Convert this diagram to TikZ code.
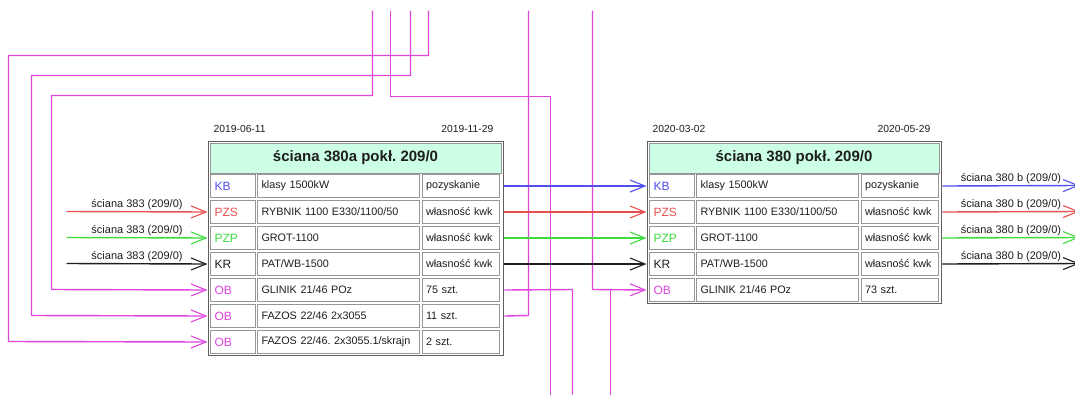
\documentclass[tikz,border=0pt]{standalone}
\usepackage{fontspec}
\setmainfont{Liberation Sans}
\usetikzlibrary{arrows.meta}
\frenchspacing
\definecolor{mint}{RGB}{204,255,230}
\definecolor{cblue}{RGB}{80,80,235}
\definecolor{cred}{RGB}{230,80,80}
\definecolor{cgreen}{RGB}{60,220,60}
\definecolor{cmag}{RGB}{222,70,222}
\definecolor{cblack}{RGB}{30,30,30}
\definecolor{frame}{RGB}{95,95,95}
\definecolor{cellb}{RGB}{150,150,150}
\newcommand{\wrow}[7]{%
  \node[cellbox, text width=36.5pt, text=#4, font=\fontsize{12}{14}\selectfont, anchor=north west] (#1a) at ({#2+2.5},{#3+1.5}) {#5};
  \node[cellbox, text width=154pt, anchor=north west] (#1b) at ({#2+49.5},{#3+1.5}) {#6};
  \node[cellbox, text width=69.5pt, anchor=north west] (#1c) at ({#2+214},{#3+1.5}) {#7};
}
\tikzset{
  cellbox/.style={draw=cellb, line width=1pt, fill=white, minimum height=23pt,
    inner xsep=4pt, inner ysep=0pt, align=left, font=\fontsize{10.8}{12}\selectfont, text=cblack},
  tbox/.style={draw=frame, line width=1.8pt, fill=white, anchor=north west, inner sep=0pt},
  hdr/.style={draw=cellb, line width=1pt, fill=mint, anchor=north west, inner sep=0pt,
    font=\bfseries\fontsize{15}{17}\selectfont, text=cblack},
  datel/.style={font=\fontsize{10.3}{12}\selectfont, text=cblack, inner sep=0pt},
  lbl/.style={font=\fontsize{11}{12}\selectfont, text=cblack, inner sep=1.5pt},
  arr/.style={line width=1.4pt, -{Straight Barb[length=15pt,width=12pt,line width=1.1pt]}},
  ml/.style={draw=cmag, line width=1.4pt},
}
\begin{document}
\begin{tikzpicture}[x=1pt,y=-1pt]
\useasboundingbox (-0.5,-0.5) rectangle (1074.5,393.5);
\clip (-0.5,-0.5) rectangle (1074.5,393.5);
\fill[white] (-0.5,-0.5) rectangle (1074.5,393.5);

% ---------- table 1 ----------
\node[tbox, minimum width=295pt, minimum height=214pt] (t1) at (207,140) {};
\node[hdr, minimum width=291pt, minimum height=30pt] (t1h) at (209,142) {ściana 380a pokł. 209/0};
\node[datel, anchor=west] (t1d1) at (213,128) {2019-06-11};
\node[datel, anchor=east] (t1d2) at (493,128) {2019-11-29};
\wrow{t1r1}{207}{172}{cblue}{KB}{klasy 1500kW}{pozyskanie}
\wrow{t1r2}{207}{198}{cred}{PZS}{RYBNIK 1100 E330/1100/50}{własność kwk}
\wrow{t1r3}{207}{224}{cgreen}{PZP}{GROT-1100}{własność kwk}
\wrow{t1r4}{207}{250}{cblack}{KR}{PAT/WB-1500}{własność kwk}
\wrow{t1r5}{207}{276}{cmag}{OB}{GLINIK 21/46 POz}{75 szt.}
\wrow{t1r6}{207}{302}{cmag}{OB}{FAZOS 22/46 2x3055}{11 szt.}
\wrow{t1r7}{207}{328}{cmag}{OB}{FAZOS 22/46. 2x3055.1/skrajn}{2 szt.}

% ---------- table 2 ----------
\node[tbox, minimum width=294pt, minimum height=162pt] (t2) at (646,140) {};
\node[hdr, minimum width=290pt, minimum height=30pt] (t2h) at (648,142) {ściana 380 pokł. 209/0};
\node[datel, anchor=west] (t2d1) at (652,128) {2020-03-02};
\node[datel, anchor=east] (t2d2) at (930,128) {2020-05-29};
\wrow{t2r1}{646}{172}{cblue}{KB}{klasy 1500kW}{pozyskanie}
\wrow{t2r2}{646}{198}{cred}{PZS}{RYBNIK 1100 E330/1100/50}{własność kwk}
\wrow{t2r3}{646}{224}{cgreen}{PZP}{GROT-1100}{własność kwk}
\wrow{t2r4}{646}{250}{cblack}{KR}{PAT/WB-1500}{własność kwk}
\wrow{t2r5}{646}{276}{cmag}{OB}{GLINIK 21/46 POz}{73 szt.}

% ---------- free ends ----------
\coordinate (in2) at (66,211);
\coordinate (in3) at (66,237);
\coordinate (in4) at (66,263);
\coordinate (out1) at (1079,185);
\coordinate (out2) at (1079,211);
\coordinate (out3) at (1079,237);
\coordinate (out4) at (1079,263);
\coordinate (m1) at (428,10);
\coordinate (m2) at (410,10);
\coordinate (m3) at (372,10);
\coordinate (m4) at (390,10);
\coordinate (m4e) at (550,394);
\coordinate (m5e) at (528,10);
\coordinate (m6e) at (572,394);
\coordinate (m7) at (592,10);
\coordinate (m8) at (610,394);

% ---------- magenta connectors ----------
\draw[ml, arr] (m1) -- (428,55) -- (8,55) -- (8,341) -- (t1.west |- t1r7a);
\draw[ml, arr] (m2) -- (410,75) -- (31,75) -- (31,315) -- (t1.west |- t1r6a);
\draw[ml, arr] (m3) -- (372,95) -- (51,95) -- (51,289) -- (t1.west |- t1r5a);
\draw[ml] (m4) -- (390,96) -- (550,96) -- (m4e);
\draw[ml] (t1.east |- t1r6c) -- (528,315) -- (m5e);
\draw[ml] (t1.east |- t1r5c) -- (572,289) -- (m6e);
\draw[ml, arr] (m7) -- (592,289) -- (t2.west |- t2r5a);
\draw[ml] (m8) -- (610,289);

% ---------- inputs to table 1 ----------
\draw[cred, arr] (in2) -- node[lbl, above, pos=0.5] {ściana 383 (209/0)} (t1.west |- t1r2a);
\draw[cgreen, arr] (in3) -- node[lbl, above, pos=0.5] {ściana 383 (209/0)} (t1.west |- t1r3a);
\draw[cblack, arr] (in4) -- node[lbl, above, pos=0.5] {ściana 383 (209/0)} (t1.west |- t1r4a);

% ---------- table 1 -> table 2 ----------
\draw[cblue, arr] (t1.east |- t1r1c) -- (t2.west |- t2r1a);
\draw[cred, arr] (t1.east |- t1r2c) -- (t2.west |- t2r2a);
\draw[cgreen, arr] (t1.east |- t1r3c) -- (t2.west |- t2r3a);
\draw[cblack, arr] (t1.east |- t1r4c) -- (t2.west |- t2r4a);

% ---------- outputs of table 2 ----------
\draw[cblue, arr] (t2.east |- t2r1c) -- node[lbl, above, pos=0.5] {ściana 380 b (209/0)} (out1);
\draw[cred, arr] (t2.east |- t2r2c) -- node[lbl, above, pos=0.5] {ściana 380 b (209/0)} (out2);
\draw[cgreen, arr] (t2.east |- t2r3c) -- node[lbl, above, pos=0.5] {ściana 380 b (209/0)} (out3);
\draw[cblack, arr] (t2.east |- t2r4c) -- node[lbl, above, pos=0.5] {ściana 380 b (209/0)} (out4);
\end{tikzpicture}
\end{document}
